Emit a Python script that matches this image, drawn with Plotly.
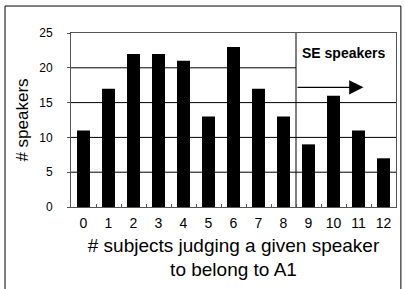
import plotly.graph_objects as go

categories = list(range(13))
speakers = [11, 17, 22, 22, 21, 13, 23, 17, 13, 9, 16, 11, 7]
y_ticks = [0, 5, 10, 15, 20, 25]
x_tick_labels = [str(c) for c in categories]
divider_x = 8.5
se_label = "SE speakers"

fig = go.Figure()
fig.add_trace(go.Bar(x=categories, y=speakers, marker_color="black",
                     marker_line_width=0, width=0.52))

FONT = "Liberation Sans, Arial, sans-serif"

shapes = []
for t in y_ticks[1:-1]:
    x1 = divider_x if t == 20 else 12.5
    shapes.append(dict(type="line", xref="x", yref="y", x0=-0.5, x1=x1, y0=t, y1=t,
                       line=dict(color="black", width=1), layer="below"))
shapes.append(dict(type="line", xref="x", yref="y", x0=divider_x, x1=divider_x, y0=0, y1=25,
                   line=dict(color="black", width=1), layer="below"))
# outer frame
shapes.append(dict(type="rect", xref="paper", yref="paper", x0=-0.203, x1=1.015, y0=-0.6, y1=1.155,
                   line=dict(color="black", width=1)))

fig.update_layout(
    width=405, height=289,
    margin=dict(l=71, r=9, t=33, b=82),
    paper_bgcolor="white", plot_bgcolor="white",
    showlegend=False,
    shapes=shapes,
    font=dict(family=FONT, color="black"),
    xaxis=dict(range=[-0.5, 12.5], tickvals=categories, ticktext=x_tick_labels,
               ticks="", showgrid=False, zeroline=False,
               showline=True, mirror=True, linecolor="#555", linewidth=1,
               tickfont=dict(size=14, family=FONT), ticklabelstandoff=3,
               minor=dict(tickvals=[c + 0.5 for c in categories[:-1]], ticks="inside",
                          ticklen=3, tickcolor="#555", showgrid=False),
               title=dict(text="# subjects judging a given speaker<br>to belong to A1",
                          font=dict(size=19, family=FONT), standoff=8)),
    yaxis=dict(range=[0, 25], tickvals=y_ticks, ticks="outside", ticklen=3, tickcolor="#555",
               showgrid=False, zeroline=False,
               showline=True, mirror=True, linecolor="#555", linewidth=1,
               tickfont=dict(size=12, family=FONT), ticklabelstandoff=12,
               title=dict(text="# speakers", font=dict(size=17, family=FONT), standoff=6)),
    annotations=[
        dict(x=11.2, y=17.2, ax=divider_x, ay=17.2, xref="x", yref="y", axref="x", ayref="y",
             text="", showarrow=True, arrowhead=2, arrowsize=2.2, arrowwidth=1.3, arrowcolor="black"),
        dict(x=10.4, y=22.1, xref="x", yref="y", text="<b>" + se_label + "</b>", showarrow=False,
             font=dict(size=14, family=FONT, color="black")),
    ],
)

fig.write_html("out.html", config={"displayModeBar": False},
               post_script="document.body.style.margin='0px';")
